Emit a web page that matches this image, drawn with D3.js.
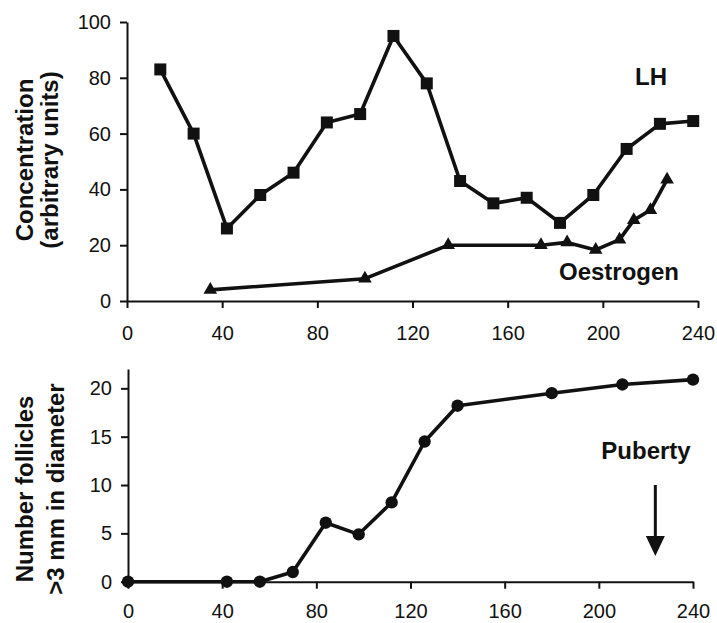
<!DOCTYPE html>
<html>
<head>
<meta charset="utf-8">
<script src="https://cdn.jsdelivr.net/npm/d3@7"></script>
<style>
  html, body { margin: 0; padding: 0; background: #fff; }
  svg { display: block; }
  text { font-family: "Liberation Sans", Arial, Helvetica, sans-serif; fill: #111; }
  .tick text { font-size: 20px; }
  .lbl { font-size: 24px; font-weight: bold; }
</style>
</head>
<body>
<svg id="chart" width="717" height="623"></svg>
<script>
// Days of age, LH concentration (squares)
const lhDays = [14, 28, 42, 56, 70, 84, 98, 112, 126, 140, 154, 168, 182, 196, 210, 224, 238];
const lhValues = [83, 60, 26, 38, 46, 64, 67, 95, 78, 43, 35, 37, 28, 38, 54.5, 63.5, 64.5];

// Oestrogen concentration (triangles)
const oeDays = [35, 100, 135, 174, 185, 197, 207, 213, 220, 227];
const oeValues = [4, 8, 20, 20, 21, 18.3, 22, 29, 32.6, 43.5];

// Number of follicles > 3 mm (circles)
const folDays = [0, 42, 56, 70, 84, 98, 112, 126, 140, 180, 210, 240];
const folValues = [0, 0, 0, 1, 6.1, 4.9, 8.2, 14.5, 18.2, 19.5, 20.4, 20.9];

// Axis ticks
const xTicks = [0, 40, 80, 120, 160, 200, 240];
const concTicks = [0, 20, 40, 60, 80, 100];
const folTicks = [0, 5, 10, 15, 20];

const pubertyDay = 224;

const svg = d3.select("#chart");

// ---------- top panel: hormone concentrations ----------
const xTop = d3.scaleLinear().domain([0, 240]).range([127, 698]);
const yTop = d3.scaleLinear().domain([0, 100]).range([301, 22]);

// ---------- bottom panel: follicle counts ----------
const xBot = d3.scaleLinear().domain([0, 240]).range([128, 693]);
const yBot = d3.scaleLinear().domain([0, 22]).range([581.7, 369]);

function styleAxis(g) {
  g.selectAll(".domain").attr("stroke", "#111").attr("stroke-width", 2);
  g.selectAll(".tick line").attr("stroke", "#111").attr("stroke-width", 2);
  g.selectAll(".tick text").attr("fill", "#111");
}

// top axes
svg.append("g")
  .attr("transform", `translate(0,${yTop(0)})`)
  .call(d3.axisBottom(xTop).tickValues(xTicks).tickSizeInner(7).tickSizeOuter(0).tickPadding(18))
  .call(styleAxis);
svg.append("g")
  .attr("transform", `translate(${xTop(0)},0)`)
  .call(d3.axisLeft(yTop).tickValues(concTicks).tickSizeInner(7).tickSizeOuter(0).tickPadding(9))
  .call(styleAxis);

// bottom axes
svg.append("g")
  .attr("transform", `translate(0,${yBot(0)})`)
  .call(d3.axisBottom(xBot).tickValues(xTicks).tickSizeInner(7).tickSizeOuter(0).tickPadding(15))
  .call(styleAxis);
svg.append("g")
  .attr("transform", `translate(${xBot(0)},0)`)
  .call(d3.axisLeft(yBot).tickValues(folTicks).tickSizeInner(7).tickSizeOuter(0).tickPadding(9))
  .call(styleAxis);

// series drawing helper
function series(xs, ys, xScale, yScale, symbolType, symbolSize) {
  const pts = xs.map((d, i) => [d, ys[i]]);
  const line = d3.line().x(d => xScale(d[0])).y(d => yScale(d[1]));
  svg.append("path")
    .datum(pts)
    .attr("d", line)
    .attr("fill", "none")
    .attr("stroke", "#111")
    .attr("stroke-width", 3.6)
    .attr("stroke-linejoin", "round");
  svg.append("g").selectAll("path")
    .data(pts)
    .join("path")
    .attr("transform", d => `translate(${xScale(d[0])},${yScale(d[1])})`)
    .attr("d", d3.symbol().type(symbolType).size(symbolSize))
    .attr("fill", "#111");
}

series(oeDays, oeValues, xTop, yTop, d3.symbolTriangle, 80);
series(lhDays, lhValues, xTop, yTop, d3.symbolSquare, 144);
series(folDays, folValues, xBot, yBot, d3.symbolCircle, 120);

// series labels
svg.append("text").attr("class", "lbl").attr("x", 651).attr("y", 85)
  .attr("text-anchor", "middle").text("LH");
svg.append("text").attr("class", "lbl").attr("x", 619).attr("y", 280)
  .attr("text-anchor", "middle").text("Oestrogen");
svg.append("text").attr("class", "lbl").attr("x", 646).attr("y", 459)
  .attr("text-anchor", "middle").text("Puberty");

// puberty arrow
const ax = xBot(pubertyDay);
svg.append("line")
  .attr("x1", ax).attr("x2", ax).attr("y1", 485).attr("y2", 540)
  .attr("stroke", "#111").attr("stroke-width", 3);
svg.append("path")
  .attr("d", `M${ax - 9.5},536 L${ax + 9.5},536 L${ax},556 Z`)
  .attr("fill", "#111");

// y-axis titles (two lines each)
function yTitle(lines, cy) {
  lines.forEach(([t, bx]) => {
    svg.append("text").attr("class", "lbl")
      .attr("transform", `translate(${bx},${cy}) rotate(-90)`)
      .attr("text-anchor", "middle")
      .text(t);
  });
}
yTitle([["Concentration", 33], ["(arbitrary units)", 58]], 160);
yTitle([["Number follicles", 33], [">3 mm in diameter", 64]], 489);
</script>
</body>
</html>
